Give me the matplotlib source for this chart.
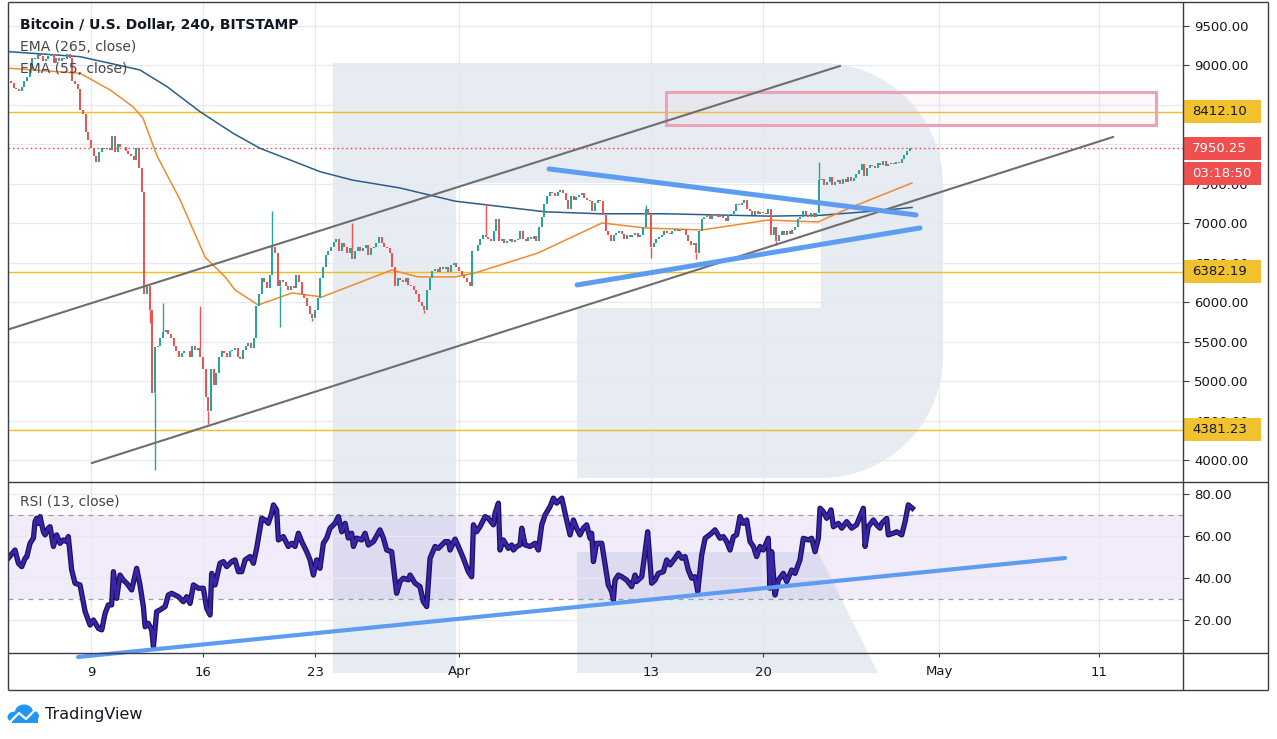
import numpy as np
import matplotlib

matplotlib.use("Agg")
import matplotlib.pyplot as plt
import matplotlib.patheffects as pe
import matplotlib.transforms as mtransforms
from matplotlib.patches import Ellipse, Polygon, Rectangle

W, H = 1277, 739

# ---------------- data (time in days since 1 Mar 2020) ----------------
first_day = 3          # first candle: 4 Mar 00:00, 240-minute candles
first_open = 8800
closes = [
    8780, 8720, 8700, 8680, 8730, 8800,  # Mar 4
    8850, 8950, 9100, 9080, 9150, 9120,  # Mar 5
    9050, 9080, 9120, 9140, 9030, 9100,  # Mar 6
    9060, 9100, 9080, 9140, 9100, 8800,  # Mar 7
    8760, 8700, 8440, 8380, 8150, 8050,  # Mar 8
    7950, 7850, 7780, 7900, 7950, 7940,  # Mar 9
    7950, 7930, 8100, 7900, 8000, 7970,  # Mar 10
    7960, 7920, 7880, 7850, 7800, 7950,  # Mar 11
    7700, 7400, 6100, 6200, 5900, 4850,  # Mar 12
    5430, 5450, 5550, 5620, 5650, 5600,  # Mar 13
    5550, 5450, 5380, 5300, 5350, 5380,  # Mar 14
    5380, 5300, 5450, 5400, 5420, 5300,  # Mar 15
    5150, 4800, 4620, 5150, 4950, 5100,  # Mar 16
    5300, 5380, 5350, 5300, 5380, 5400,  # Mar 17
    5420, 5300, 5280, 5400, 5450, 5480,  # Mar 18
    5420, 5550, 5950, 6100, 6300, 6250,  # Mar 19
    6180, 6350, 6700, 6620, 6200, 6280,  # Mar 20
    6250, 6200, 6150, 6200, 6180, 6350,  # Mar 21
    6250, 6100, 6050, 5950, 5850, 5800,  # Mar 22
    5900, 6050, 6300, 6450, 6600, 6650,  # Mar 23
    6700, 6760, 6800, 6650, 6750, 6700,  # Mar 24
    6620, 6680, 6550, 6650, 6700, 6650,  # Mar 25
    6680, 6720, 6600, 6680, 6700, 6750,  # Mar 26
    6820, 6750, 6700, 6680, 6620, 6450,  # Mar 27
    6200, 6300, 6280, 6250, 6300, 6220,  # Mar 28
    6200, 6150, 6100, 6000, 5950, 5900,  # Mar 29
    6150, 6300, 6400, 6420, 6380, 6450,  # Mar 30
    6420, 6450, 6380, 6470, 6500, 6450,  # Mar 31
    6400, 6350, 6300, 6250, 6200, 6650,  # Apr 1
    6650, 6720, 6800, 6850, 6820, 6800,  # Apr 2
    6780, 6900, 7050, 6780, 6800, 6750,  # Apr 3
    6780, 6800, 6760, 6790, 6800, 6900,  # Apr 4
    6800, 6780, 6820, 6800, 6840, 6780,  # Apr 5
    6950, 7080, 7250, 7350, 7400, 7380,  # Apr 6
    7350, 7400, 7420, 7380, 7300, 7180,  # Apr 7
    7350, 7300, 7330, 7360, 7380, 7320,  # Apr 8
    7300, 7280, 7150, 7260, 7300, 7280,  # Apr 9
    7100, 6900, 6850, 6780, 6850, 6880,  # Apr 10
    6900, 6870, 6800, 6850, 6820, 6850,  # Apr 11
    6880, 6830, 6850, 6950, 7180, 7100,  # Apr 12
    6700, 6750, 6800, 6820, 6850, 6900,  # Apr 13
    6880, 6870, 6900, 6930, 6900, 6920,  # Apr 14
    6930, 6850, 6780, 6720, 6750, 6620,  # Apr 15
    6900, 7050, 7080, 7100, 7050, 7120,  # Apr 16
    7100, 7080, 7090, 7070, 7030, 7100,  # Apr 17
    7120, 7150, 7250, 7230, 7260, 7300,  # Apr 18
    7180, 7150, 7100, 7150, 7120, 7140,  # Apr 19
    7130, 7120, 7180, 6850, 6950, 6780,  # Apr 20
    6850, 6900, 6850, 6900, 6870, 6920,  # Apr 21
    6950, 7050, 7080, 7150, 7100, 7080,  # Apr 22
    7130, 7080, 7130, 7550, 7560, 7480,  # Apr 23
    7520, 7580, 7480, 7520, 7550, 7500,  # Apr 24
    7560, 7520, 7580, 7540, 7570, 7620,  # Apr 25
    7680, 7750, 7600, 7700, 7740, 7720,  # Apr 26
    7700, 7760, 7740, 7790, 7720, 7750,  # Apr 27
    7760, 7750, 7780, 7760, 7820, 7870,  # Apr 28
    7920, 7950.25,                       # Apr 29
]
# long wicks that stand out (candle index, price)
wick_hi_idx = [57, 71, 98, 128, 178, 238, 303]
wick_hi_val = [5990, 5950, 7150, 7000, 7250, 7230, 7770]
wick_lo_idx = [52, 54, 74, 101, 113, 155, 240, 257, 287]
wick_lo_val = [5740, 3870, 4450, 5690, 5760, 5860, 6560, 6550, 6720]

ema265_days = [2.81, 7.31, 9.19, 11.06, 12.75, 14.81, 16.88, 18.56, 20.44, 22.31,
               24.31, 27.31, 30.75, 36.38, 39.81, 43.88, 50.44, 53.56, 57.31, 59.31]
ema265_vals = [9175, 9111, 9027, 8942, 8731, 8414, 8140, 7950, 7802, 7654,
               7548, 7447, 7280, 7145, 7120, 7120, 7090, 7100, 7160, 7200]
ema55_days = [2.81, 7.31, 9.19, 10.63, 11.25, 12.13, 13.56, 15.13, 16.38, 17.0, 18.44,
              20.56, 22.44, 24.69, 26.81, 28.44, 30.75, 32.0, 35.94, 39.94, 42.63,
              46.19, 50.31, 53.44, 55.56, 59.31]
ema55_vals = [8965, 8900, 8690, 8475, 8330, 7850, 7300, 6570, 6320, 6155, 5964,
              6117, 6066, 6243, 6408, 6320, 6320, 6370, 6623, 7004, 6940,
              6915, 7040, 7016, 7206, 7510]

rsi_days = [
    2.83, 3.25, 3.46, 3.67, 3.88, 3.98, 4.19, 4.40, 4.50, 4.60, 4.71, 4.81, 5.02, 5.13,
    5.33, 5.44, 5.65, 5.85, 6.06, 6.27, 6.48, 6.58, 6.79, 7.00, 7.31, 7.63, 7.94, 8.15,
    8.46, 8.67, 8.88, 9.08, 9.29, 9.40, 9.60, 9.81, 10.02, 10.23, 10.54, 10.85, 11.06,
    11.27, 11.38, 11.58, 11.79, 11.90, 12.10, 12.31, 12.63, 12.83, 13.04, 13.46, 13.77,
    13.98, 14.19, 14.40, 14.71, 15.02, 15.23, 15.44, 15.54, 15.75, 16.06, 16.27, 16.48,
    16.79, 17.00, 17.21, 17.42, 17.63, 17.94, 18.15, 18.35, 18.67, 18.88, 19.08, 19.29,
    19.40, 19.60, 19.71, 20.02, 20.33, 20.54, 20.75, 20.96, 21.17, 21.48, 21.69, 21.90,
    22.10, 22.31, 22.52, 22.73, 22.94, 23.25, 23.46, 23.67, 23.88, 24.08, 24.29, 24.40,
    24.60, 24.92, 25.13, 25.33, 25.65, 26.06, 26.27, 26.48, 26.79, 27.10, 27.31, 27.52,
    27.83, 27.94, 28.25, 28.56, 28.77, 28.98, 29.19, 29.50, 29.71, 30.13, 30.33, 30.44,
    30.75, 30.96, 31.27, 31.58, 31.79, 31.90, 32.10, 32.31, 32.63, 32.83, 33.15, 33.25,
    33.46, 33.56, 33.77, 34.08, 34.29, 34.40, 34.60, 34.81, 34.92, 35.13, 35.44, 35.75,
    35.96, 36.17, 36.38, 36.69, 36.90, 37.10, 37.42, 37.63, 37.94, 38.15, 38.35, 38.56,
    38.77, 38.98, 39.19, 39.29, 39.40, 39.60, 39.92, 40.13, 40.33, 40.54, 40.65, 40.75,
    40.96, 41.17, 41.48, 41.79, 42.00, 42.10, 42.42, 42.63, 42.79, 43.04, 43.25, 43.46,
    43.77, 43.98, 44.19, 44.50, 44.71, 44.92, 45.13, 45.33, 45.54, 45.75, 45.92, 46.17,
    46.38, 46.79, 47.00, 47.31, 47.52, 47.73, 47.94, 48.15, 48.35, 48.56, 48.77, 48.98,
    49.19, 49.40, 49.60, 49.81, 50.02, 50.33, 50.44, 50.54, 50.75, 50.96, 51.27, 51.48,
    51.79, 52.00, 52.31, 52.52, 52.83, 53.04, 53.25, 53.46, 53.56, 53.77, 53.98, 54.25,
    54.40, 54.71, 54.92, 55.23, 55.54, 55.85, 56.06, 56.27, 56.38, 56.58, 56.90, 57.10,
    57.31, 57.42, 57.73, 57.83, 58.15, 58.35, 58.67, 58.88, 59.08, 59.33,
]
rsi_vals = [
    49.4, 53.3, 47.0, 45.4, 49.4, 50.0, 56.5, 59.0, 66.8, 68.4, 66.0, 69.2, 62.0, 60.5,
    63.7, 64.4, 55.0, 60.5, 56.5, 58.1, 57.3, 59.7, 43.8, 37.5, 36.7, 24.0, 17.6, 20.0,
    16.0, 15.3, 23.2, 27.2, 27.2, 43.0, 30.3, 41.4, 39.0, 37.5, 34.3, 44.6, 36.7,
    26.4, 16.8, 18.4, 15.3, 7.3, 24.0, 24.8, 26.4, 31.9, 32.7, 31.1, 28.7,
    31.1, 27.9, 36.7, 35.1, 35.1, 25.6, 22.4, 42.2, 36.7, 47.0, 47.8, 45.4,
    47.8, 48.6, 43.0, 43.0, 48.6, 50.2, 47.0, 54.1, 68.4, 67.6, 66.0, 70.8,
    74.8, 72.4, 58.1, 59.7, 55.0, 56.5, 55.0, 61.3, 57.3, 52.5, 48.6, 41.4,
    48.6, 44.6, 56.5, 59.0, 63.7, 66.0, 69.2, 62.0, 66.0, 59.0, 61.3, 55.0,
    59.0, 58.1, 61.3, 55.7, 57.3, 62.9, 59.0, 53.3, 52.5, 32.7, 38.3, 39.9,
    39.1, 41.4, 37.5, 35.9, 28.7, 26.4, 49.4, 55.0, 54.1, 57.3, 57.3, 53.3,
    58.5, 55.0, 49.4, 43.0, 40.6, 65.3, 62.0, 64.4, 69.2, 68.4, 65.3, 70.8,
    75.6, 53.3, 58.1, 54.1, 55.7, 53.3, 55.0, 55.7, 63.7, 55.7, 55.0, 56.5,
    53.3, 65.3, 70.0, 74.0, 78.0, 75.6, 78.0, 70.8, 60.5, 67.6, 63.7, 60.5,
    63.7, 65.3, 58.9, 61.3, 47.8, 56.5, 56.5, 46.2, 36.7, 33.5, 29.5, 39.0,
    41.4, 40.6, 39.0, 35.9, 41.4, 38.3, 40.6, 52.5, 62.0, 37.5, 39.0, 42.2,
    43.0, 48.6, 46.2, 49.4, 51.8, 49.4, 50.2, 43.8, 39.9, 40.6, 33.5, 51.0,
    58.9, 61.3, 62.9, 58.9, 59.7, 57.3, 53.3, 59.7, 60.5, 69.2, 66.0, 67.6,
    57.3, 55.0, 50.2, 55.0, 53.3, 58.9, 35.1, 52.5, 31.9, 39.0, 42.2, 38.3,
    43.8, 42.2, 48.6, 58.9, 58.1, 58.9, 52.5, 58.9, 73.2, 71.6, 68.4, 72.4,
    64.4, 66.0, 63.7, 66.8, 63.7, 65.3, 69.2, 73.2, 55.0, 64.4, 67.6, 65.3,
    63.7, 66.0, 68.4, 60.5, 61.3, 62.0, 60.5, 66.8, 74.8, 73.2,
]

date_tick_days = [8, 15, 22, 31, 43, 50, 61, 71]
date_tick_labels = ["9", "16", "23", "Apr", "13", "20", "May", "11"]
price_ticks = [4000, 4500, 5000, 5500, 6000, 6500, 7000, 7500, 8000, 8500, 9000, 9500]
rsi_ticks = [20, 40, 60, 80]

level_prices = [8412.10, 6382.19, 4381.23]
last_price = 7950.25
countdown = "03:18:50"

channel_upper = ([2.30, 54.81], [5620, 8993])
channel_lower = ([8.06, 71.88], [3962, 8093])
wedge_upper = ([36.63, 59.56], [7688, 7105])
wedge_lower = ([38.38, 59.81], [6218, 6940])
rsi_trend = ([7.19, 68.88], [2.4, 49.5])
zone_days = [43.94, 74.56]
zone_prices = [8245, 8664]

x_range = (2.81, 76.25)
price_range = (3721, 9791)
rsi_range = (4.3, 85.2)

GREEN = "#26a69a"
RED = "#ef5350"
GRID = "#e6eaf0"
FRAME = "#3a3d45"
TEXT = "#131722"
BLUE = "#5e9cf0"


def fig_rect(x0, y0, x1, y1):
    return [x0 / W, 1 - y1 / H, (x1 - x0) / W, (y1 - y0) / H]


fig = plt.figure(figsize=(W / 100, H / 100), dpi=100)
fig.patch.set_facecolor("white")

# watermark logo in the background (pixel coordinates)
bg = fig.add_axes([0, 0, 1, 1], zorder=-1)
bg.set_xlim(0, W)
bg.set_ylim(H, 0)
bg.axis("off")
wm = "#e7ebf2"
bg.add_patch(Rectangle((333, 63), 123, 610, color=wm, lw=0))
t1 = np.radians(np.linspace(90, 0, 30))
t2 = np.radians(np.linspace(0, -90, 30))
bowl = [(456, 63)]
bowl += list(zip(821 + 122 * np.cos(t1), 185 - 122 * np.sin(t1)))
bowl += list(zip(821 + 122 * np.cos(t2), 356 - 122 * np.sin(t2)))
bowl += [(577, 478), (577, 308), (821, 308), (821, 183), (456, 183)]
bg.add_patch(Polygon(bowl, closed=True, color=wm, lw=0))
bg.add_patch(Polygon([(577, 552), (818, 552), (878, 673), (577, 673)], closed=True, color=wm, lw=0))

# ---------------- price panel ----------------
ax = fig.add_axes(fig_rect(8, 3, 1183, 482))
ax.set_facecolor("none")
ax.set_xlim(*x_range)
ax.set_ylim(*price_range)
ax.set_yticks(price_ticks)
ax.set_yticklabels([f"{v:.2f}" for v in price_ticks])
ax.yaxis.tick_right()
ax.set_xticks(date_tick_days)
ax.tick_params(axis="x", length=0, labelbottom=False)
ax.tick_params(axis="y", length=4, width=0.8, color=FRAME, pad=4, labelsize=9.5, labelcolor=TEXT)
ax.grid(True, color=GRID, lw=0.9, zorder=0)
for s in ax.spines.values():
    s.set_visible(False)

for p in level_prices:
    ax.axhline(p, color="#f0bd22", lw=1.0, zorder=2)
ax.axhline(last_price, color=RED, lw=1.0, ls=(0, (1.2, 2)), zorder=2)

ax.add_patch(Rectangle((zone_days[0], zone_prices[0]), zone_days[1] - zone_days[0],
                       zone_prices[1] - zone_prices[0], facecolor=(0.96, 0.8, 0.86, 0.12),
                       edgecolor="#eba3b9", lw=2.2, zorder=2))

ax.plot(ema265_days, ema265_vals, color="#2b5d8a", lw=1.1, zorder=3)
ax.plot(ema55_days, ema55_vals, color="#f08a2c", lw=1.1, zorder=3)

c = np.array(closes, dtype=float)
o = np.concatenate([[first_open], c[:-1]])
t = first_day + np.arange(len(c)) / 6
up = c >= o
cols = np.where(up, GREEN, RED)
ax.bar(t, c - o, bottom=o, width=0.14, color=cols, lw=0, zorder=4)
for i, v in zip(wick_hi_idx, wick_hi_val):
    ax.vlines(t[i], max(o[i], c[i]), v, color=cols[i], lw=1.0, zorder=4)
for i, v in zip(wick_lo_idx, wick_lo_val):
    ax.vlines(t[i], v, min(o[i], c[i]), color=cols[i], lw=1.0, zorder=4)

for xs, ys in (channel_upper, channel_lower):
    ax.plot(xs, ys, color="#6e6e6e", lw=1.5, zorder=5)
for xs, ys in (wedge_upper, wedge_lower):
    ax.plot(xs, ys, color=BLUE, lw=3.6, solid_capstyle="round", zorder=6)

# price labels on the right scale
blend = mtransforms.blended_transform_factory(ax.transAxes, ax.transData)
per_px = (price_range[1] - price_range[0]) / 479
box_w = 78 / 1175
box_h = 23 * per_px


def scale_label(price, text, face, color, shift=0):
    yc = price - shift * per_px
    ax.add_patch(Rectangle((1.0, yc - box_h / 2), box_w, box_h, transform=blend,
                           facecolor=face, lw=0, clip_on=False, zorder=8))
    ax.text(1.0 + 9 / 1175, yc, text, transform=blend, ha="left", va="center",
            fontsize=9.5, color=color, clip_on=False, zorder=9)


for p in level_prices:
    scale_label(p, f"{p:.2f}", "#f2c12e", TEXT)
scale_label(last_price, f"{last_price:.2f}", "#ef4f4f", "white")
scale_label(last_price, countdown, "#ef4f4f", "white", shift=25)

# ---------------- RSI panel ----------------
ax_r = fig.add_axes(fig_rect(8, 483, 1183, 653))
ax_r.set_facecolor("none")
ax_r.set_xlim(*x_range)
ax_r.set_ylim(*rsi_range)
ax_r.set_yticks(rsi_ticks)
ax_r.set_yticklabels([f"{v:.2f}" for v in rsi_ticks])
ax_r.yaxis.tick_right()
ax_r.set_xticks(date_tick_days)
ax_r.set_xticklabels(date_tick_labels)
ax_r.tick_params(axis="x", length=3, width=0.8, color=FRAME, pad=6, labelsize=9.5, labelcolor=TEXT)
ax_r.tick_params(axis="y", length=4, width=0.8, color=FRAME, pad=4, labelsize=9.5, labelcolor=TEXT)
ax_r.grid(True, color=GRID, lw=0.9, zorder=0)
for s in ax_r.spines.values():
    s.set_visible(False)
ax_r.axhspan(30, 70, color="#9c6ade", alpha=0.12, lw=0, zorder=1)
for lvl in (30, 70):
    ax_r.axhline(lvl, color="#9a9da6", lw=0.9, ls=(0, (4, 4)), zorder=2)
ax_r.plot(rsi_days, rsi_vals, color="#3826a8", lw=2.0, zorder=4,
          path_effects=[pe.Stroke(linewidth=3.8, foreground="#1c1160"), pe.Normal()])
ax_r.plot(*rsi_trend, color=BLUE, lw=3.0, solid_capstyle="round", clip_on=False, zorder=5)

# ---------------- frame, legends, logo ----------------
fg = fig.add_axes([0, 0, 1, 1], zorder=10)
fg.set_xlim(0, W)
fg.set_ylim(H, 0)
fg.axis("off")
for (x0, y0, x1, y1) in [(8, 2, 1268, 2), (8, 690, 1268, 690), (8, 2, 8, 690), (1268, 2, 1268, 690),
                         (1183, 2, 1183, 690), (8, 482, 1268, 482), (8, 653, 1268, 653)]:
    fg.plot([x0, x1], [y0, y1], color=FRAME, lw=1.0, solid_capstyle="butt")

fg.text(20, 25, "Bitcoin / U.S. Dollar, 240, BITSTAMP", fontsize=10, fontweight="bold",
        color=TEXT, va="center")
fg.text(20, 47, "EMA (265, close)", fontsize=10, color="#454545", va="center")
fg.text(20, 69, "EMA (55, close)", fontsize=10, color="#454545", va="center")
fg.text(20, 502, "RSI (13, close)", fontsize=10, color="#454545", va="center")
fg.text(45, 715, "TradingView", fontsize=11.5, color=TEXT, va="center")

logo_blue = "#2196f3"
fg.add_patch(Ellipse((24, 712), 18, 15, color=logo_blue, lw=0))
fg.add_patch(Ellipse((32, 716), 14, 11, color=logo_blue, lw=0))
fg.add_patch(Ellipse((15, 717), 15, 11, color=logo_blue, lw=0))
fg.add_patch(Rectangle((12, 716), 26, 7, color=logo_blue, lw=0))
fg.plot([11, 19, 26, 36], [721, 713, 719, 709], color="white", lw=1.6)

fig.savefig("out.png", dpi=100, facecolor="white")
